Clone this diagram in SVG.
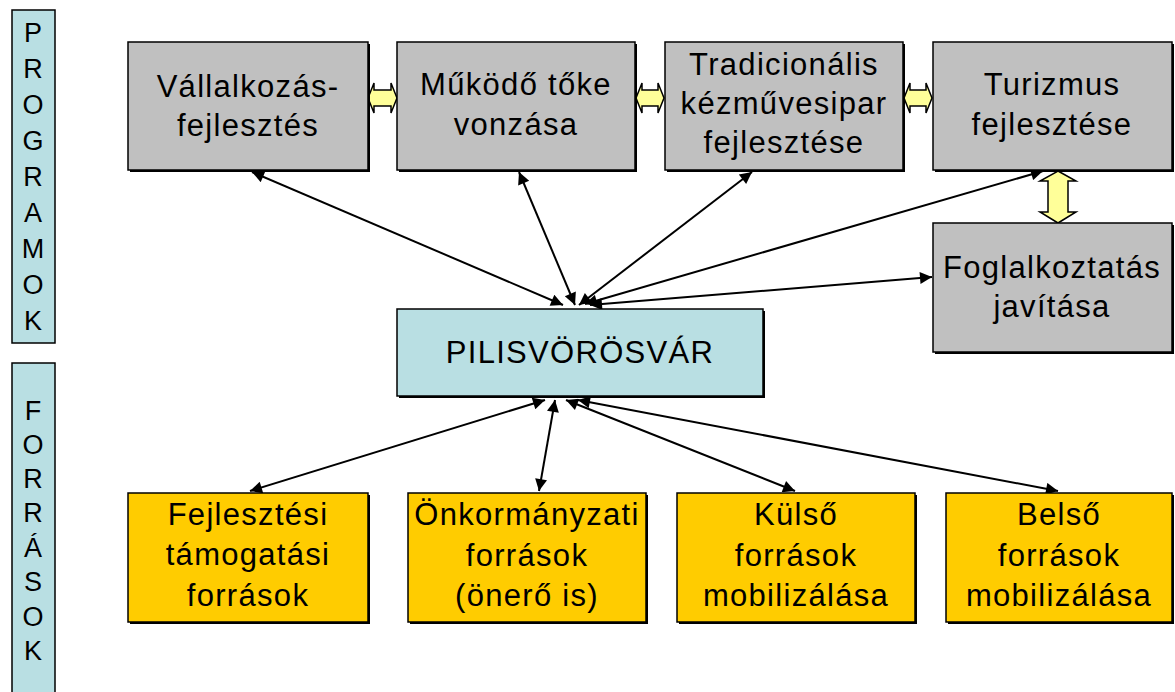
<svg xmlns="http://www.w3.org/2000/svg" width="1175" height="692" viewBox="0 0 1175 692">
<style>
.t{font-family:"Liberation Sans",Arial,sans-serif;font-size:31px;letter-spacing:1.3px;fill:#000;text-anchor:middle}
.v{font-family:"Liberation Sans",Arial,sans-serif;font-size:27px;fill:#000;text-anchor:middle}
.sh{fill:#000}
.gray{fill:#c0c0c0;stroke:#000;stroke-width:1.5}
.blue{fill:#b9dfe3;stroke:#000;stroke-width:1.5}
.org{fill:#ffcc00;stroke:#000;stroke-width:1.5}
.ya{fill:#ffff99;stroke:#000;stroke-width:1.5;stroke-linejoin:miter}
.c{stroke:#000;stroke-width:2;fill:none;marker-start:url(#ah);marker-end:url(#ah)}
</style>
<defs>
<marker id="ah" viewBox="0 0 10 10" refX="10" refY="5" markerWidth="7" markerHeight="6" orient="auto-start-reverse" markerUnits="strokeWidth">
<path d="M0,0 L10,5 L0,10 Z" fill="#000"/>
</marker>
</defs>
<rect width="1175" height="692" fill="#fff"/>

<g id="label-programok">
<rect x="12" y="10" width="43" height="333" class="blue"/>
<text class="v" x="33" y="42">P</text>
<text class="v" x="33" y="78">R</text>
<text class="v" x="33" y="114">O</text>
<text class="v" x="33" y="150">G</text>
<text class="v" x="33" y="186">R</text>
<text class="v" x="33" y="222">A</text>
<text class="v" x="33" y="258">M</text>
<text class="v" x="33" y="294">O</text>
<text class="v" x="33" y="330">K</text>
</g>
<g id="label-forrasok">
<rect x="12" y="363" width="43" height="340" class="blue"/>
<text class="v" x="33" y="420">F</text>
<text class="v" x="33" y="454">O</text>
<text class="v" x="33" y="488">R</text>
<text class="v" x="33" y="522">R</text>
<text class="v" x="33" y="557">Á</text>
<text class="v" x="33" y="591">S</text>
<text class="v" x="33" y="626">O</text>
<text class="v" x="33" y="660">K</text>
</g>

<g id="connectors">
<line class="c" x1="563" y1="305" x2="252" y2="172"/>
<line class="c" x1="575" y1="305" x2="519" y2="172"/>
<line class="c" x1="579" y1="305" x2="752" y2="172"/>
<line class="c" x1="585" y1="304" x2="1043" y2="171"/>
<line class="c" x1="590" y1="305" x2="932" y2="277"/>
<line class="c" x1="545" y1="400" x2="250" y2="491"/>
<line class="c" x1="555" y1="400" x2="539" y2="491"/>
<line class="c" x1="566" y1="400" x2="795" y2="491"/>
<line class="c" x1="578" y1="400" x2="1058" y2="491"/>
<polygon class="ya" points="368,98 374,83 374,90 391,90 391,83 397,98 391,113 391,106 374,106 374,113"/>
<polygon class="ya" points="636,98 642,83 642,90 658,90 658,83 664,98 658,113 658,106 642,106 642,113"/>
<polygon class="ya" points="904,98 910,83 910,90 926,90 926,83 932,98 926,113 926,106 910,106 910,113"/>
<polygon class="ya" points="1058,171 1076,181 1068,181 1068,212 1076,212 1058,223 1040,212 1048,212 1048,181 1040,181"/>
</g>

<g id="n-vallalkozas">
<rect x="130" y="44" width="240" height="128" class="sh"/>
<rect x="128" y="42" width="240" height="128" class="gray"/>
<text class="t" x="248" y="97">Vállalkozás-</text>
<text class="t" x="248" y="136">fejlesztés</text>
</g>
<g id="n-mukodo">
<rect x="399" y="44" width="238" height="128" class="sh"/>
<rect x="397" y="42" width="238" height="128" class="gray"/>
<text class="t" x="516" y="95">Működő tőke</text>
<text class="t" x="516" y="135">vonzása</text>
</g>
<g id="n-tradicionalis">
<rect x="667" y="44" width="238" height="128" class="sh"/>
<rect x="665" y="42" width="238" height="128" class="gray"/>
<text class="t" x="784" y="75">Tradicionális</text>
<text class="t" x="784" y="114">kézművesipar</text>
<text class="t" x="784" y="153">fejlesztése</text>
</g>
<g id="n-turizmus">
<rect x="935" y="44" width="239" height="128" class="sh"/>
<rect x="933" y="42" width="239" height="128" class="gray"/>
<text class="t" x="1052" y="95">Turizmus</text>
<text class="t" x="1052" y="135">fejlesztése</text>
</g>
<g id="n-foglalkoztatas">
<rect x="935" y="225" width="239" height="129" class="sh"/>
<rect x="933" y="223" width="239" height="129" class="gray"/>
<text class="t" x="1052" y="278">Foglalkoztatás</text>
<text class="t" x="1052" y="317">javítása</text>
</g>
<g id="n-pilisvorosvar">
<rect x="399" y="311" width="366" height="87" class="sh"/>
<rect x="397" y="309" width="366" height="87" class="blue"/>
<text class="t" x="580" y="363">PILISVÖRÖSVÁR</text>
</g>
<g id="n-fejlesztesi">
<rect x="130" y="495" width="240" height="129" class="sh"/>
<rect x="128" y="493" width="240" height="129" class="org"/>
<text class="t" x="248" y="525">Fejlesztési</text>
<text class="t" x="248" y="565">támogatási</text>
<text class="t" x="248" y="606">források</text>
</g>
<g id="n-onkormanyzati">
<rect x="410" y="495" width="238" height="129" class="sh"/>
<rect x="408" y="493" width="238" height="129" class="org"/>
<text class="t" x="527" y="525">Önkormányzati</text>
<text class="t" x="527" y="566">források</text>
<text class="t" x="527" y="606">(önerő is)</text>
</g>
<g id="n-kulso">
<rect x="679" y="495" width="238" height="129" class="sh"/>
<rect x="677" y="493" width="238" height="129" class="org"/>
<text class="t" x="796" y="525">Külső</text>
<text class="t" x="796" y="566">források</text>
<text class="t" x="796" y="606">mobilizálása</text>
</g>
<g id="n-belso">
<rect x="948" y="495" width="226" height="129" class="sh"/>
<rect x="946" y="493" width="226" height="129" class="org"/>
<text class="t" x="1059" y="525">Belső</text>
<text class="t" x="1059" y="566">források</text>
<text class="t" x="1059" y="606">mobilizálása</text>
</g>
</svg>
